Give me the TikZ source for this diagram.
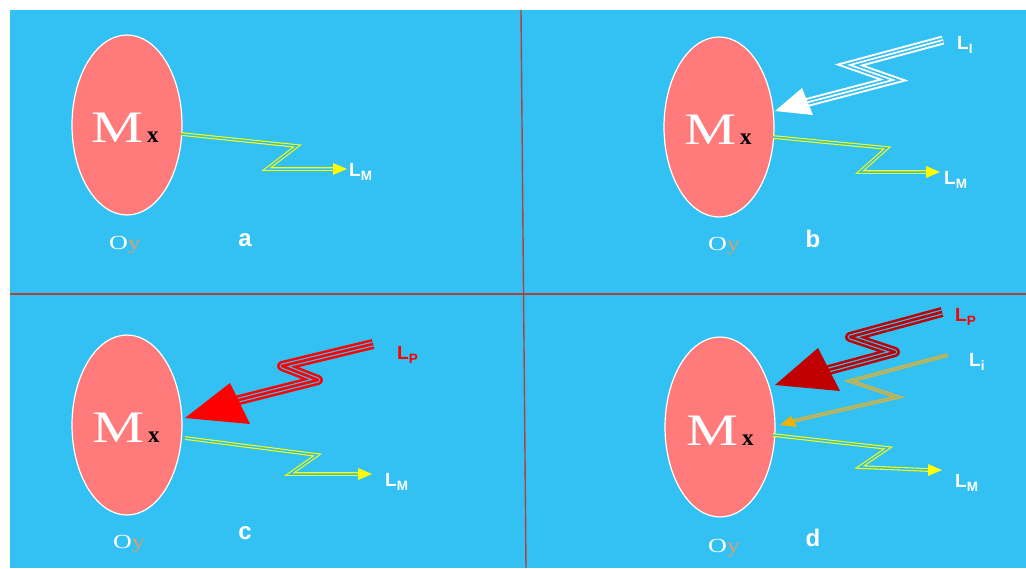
\documentclass[tikz,border=0pt]{standalone}
\usepackage{fontspec}
\setmainfont{Liberation Serif}
\newfontfamily\labfont{Liberation Sans}
\usetikzlibrary{shapes.geometric}
\definecolor{skyb}{HTML}{33C0F2}
\definecolor{sepc}{HTML}{B0413E}
\definecolor{ellc}{HTML}{FF7B7B}
\definecolor{yel}{HTML}{FFFF00}
\definecolor{dred}{HTML}{C00000}
\definecolor{bred}{HTML}{FF0000}
\definecolor{goldl}{HTML}{D6B23E}
\definecolor{goldh}{HTML}{F2B200}
\definecolor{ycol}{HTML}{D8A070}
\tikzset{
  body/.style={ellipse, draw=white, line width=1.2pt, fill=ellc, minimum width=110pt, minimum height=180pt, inner sep=0pt},
  bigm/.style={anchor=base west, inner sep=0pt, text=white, font=\fontsize{45}{45}\selectfont},
  smallx/.style={anchor=base west, inner sep=0pt, text=black, font=\bfseries\fontsize{23}{23}\selectfont},
  oy/.style={anchor=base west, inner sep=0pt, font=\fontsize{20}{20}\selectfont},
  panellab/.style={anchor=base, inner sep=0pt, text=white, font=\labfont\bfseries\fontsize{24}{24}\selectfont},
  lab/.style={anchor=base west, inner sep=0pt, font=\labfont\bfseries\fontsize{19}{19}\selectfont},
  yline/.style={draw=yel, line width=1.1pt, double=skyb, double distance=1.5pt, line join=miter},
  gline/.style={draw=goldl, line width=1.2pt, double=goldl!60!skyb, double distance=1.4pt, line join=miter},
}
\newcommand\mysub[1]{\raisebox{-0.25em}{\fontsize{13.5}{13.5}\selectfont #1}}
\newcommand\myoy{\scalebox{1.3}[1]{\textcolor{white}{O}\textcolor{ycol}{y}}}
\newcommand\mybigm{\scalebox{1.3}[1]{M}}
\begin{document}
\begin{tikzpicture}[x=1pt,y=-1pt]
\useasboundingbox (0,0) rectangle (1026,568);
\fill[white] (0,0) rectangle (1026,568);
\fill[skyb] (10,10) rectangle (1026,568);
\coordinate (vt) at (521,10);
\coordinate (vb) at (526,568);
\coordinate (hl) at (10,294);
\coordinate (hr) at (1026,294);
\draw[sepc, line width=1.4pt] (vt) -- (vb);
\draw[sepc, line width=1.4pt] (hl) -- (hr);

% ---------- panel a ----------
\node[body] (Ea) at (127,125) {};
\node[bigm] (Ma) at (91,142) {\mybigm};
\node[smallx] (Xa) at (147,142) {x};
\node[oy] (Oa) at (109,249) {\myoy};
\node[panellab] (la) at (245,246) {a};
\coordinate (ya0) at (181,134);
\coordinate (ya1) at (297,146);
\coordinate (ya2) at (267,169);
\coordinate (ya3) at (333,169);
\coordinate (yat) at (347,169);
\draw[yline] (ya0) -- (ya1) -- (ya2) -- (ya3);
\fill[yel] (yat) -- ([yshift=-6]ya3) -- ([yshift=6]ya3) -- cycle;
\node[lab, text=white] (LMa) at (349,176) {L\mysub{M}};

% ---------- panel b ----------
\node[body] (Eb) at (719,127) {};
\node[bigm] (Mb) at (684,144) {\mybigm};
\node[smallx] (Xb) at (740,144) {x};
\node[oy] (Ob) at (708,250) {\myoy};
\node[panellab] (lb) at (813,247) {b};
\coordinate (yb0) at (773,137);
\coordinate (yb1) at (887,148);
\coordinate (yb2) at (860,172);
\coordinate (yb3) at (926,172);
\coordinate (ybt) at (940,172);
\draw[yline] (yb0) -- (yb1) -- (yb2) -- (yb3);
\fill[yel] (ybt) -- ([yshift=-6]yb3) -- ([yshift=6]yb3) -- cycle;
\node[lab, text=white] (LMb) at (944,184) {L\mysub{M}};
% white triple arrow
\coordinate (wb0) at (943,40);
\coordinate (wb1) at (850,65);
\coordinate (wb2) at (893,80);
\coordinate (wb3) at (805,103);
\coordinate (wbt) at (775,111);
\foreach \w/\c in {9/white, 5/skyb, 1.7/white}
  \draw[line width=\w pt, \c, line join=miter] (wb0) -- (wb1) -- (wb2) -- (wb3);
\fill[white] (wbt) -- (802,88) -- (813,115) -- cycle;
\node[lab, text=white] (LIb) at (957,49) {L\mysub{I}};

% ---------- panel c ----------
\node[body] (Ec) at (127,425) {};
\node[bigm] (Mc) at (92,442) {\mybigm};
\node[smallx] (Xc) at (148,442) {x};
\node[oy] (Oc) at (113,548) {\myoy};
\node[panellab] (lc) at (245,539) {c};
\coordinate (yc0) at (185,438);
\coordinate (yc1) at (317,455);
\coordinate (yc2) at (290,474);
\coordinate (yc3) at (358,474);
\coordinate (yct) at (372,474);
\draw[yline] (yc0) -- (yc1) -- (yc2) -- (yc3);
\fill[yel] (yct) -- ([yshift=-6]yc3) -- ([yshift=6]yc3) -- cycle;
\node[lab, text=white] (LMc) at (385,486) {L\mysub{M}};
% red triple arrow
\coordinate (rc0) at (373,344);
\coordinate (rc1) at (282,366);
\coordinate (rc2) at (318,380);
\coordinate (rc3) at (235,401);
\coordinate (rct) at (185,418);
\foreach \w/\c in {10/bred, 5/skyb, 2.6/bred}
  \draw[line width=\w pt, \c, line join=round] (rc0) -- (rc1) -- (rc2) -- (rc3);
\fill[bred] (rct) -- (230,383) -- (250,424) -- cycle;
\node[lab, text=bred] (LPc) at (397,359) {L\mysub{P}};

% ---------- panel d ----------
\node[body] (Ed) at (720,427) {};
\node[bigm] (Md) at (686,445) {\mybigm};
\node[smallx] (Xd) at (742,445) {x};
\node[oy] (Od) at (708,552) {\myoy};
\node[panellab] (ld) at (813,546) {d};
\coordinate (yd0) at (773,435);
\coordinate (yd1) at (888,448);
\coordinate (yd2) at (860,467);
\coordinate (yd3) at (928,470);
\coordinate (ydt) at (942,470);
\draw[yline] (yd0) -- (yd1) -- (yd2) -- (yd3);
\fill[yel] (ydt) -- ([yshift=-6]yd3) -- ([yshift=6]yd3) -- cycle;
\node[lab, text=white] (LMd) at (955,487) {L\mysub{M}};
% dark red triple arrow
\coordinate (rd0) at (942,312);
\coordinate (rd1) at (850,337);
\coordinate (rd2) at (895,352);
\coordinate (rd3) at (825,371);
\coordinate (rdt) at (775,385);
\foreach \w/\c in {10/dred, 5/skyb, 2.6/dred}
  \draw[line width=\w pt, \c, line join=round] (rd0) -- (rd1) -- (rd2) -- (rd3);
\fill[dred] (rdt) -- (818,348) -- (840,391) -- cycle;
\node[lab, text=bred] (LPd) at (955,321) {L\mysub{P}};
% gold zigzag arrow
\coordinate (gd0) at (948,355);
\coordinate (gd1) at (850,381);
\coordinate (gd2) at (898,397);
\coordinate (gd3) at (793,421);
\coordinate (gdt) at (780,425);
\draw[gline] (gd0) -- (gd1) -- (gd2) -- (gd3);
\fill[goldh] (gdt) -- (791,416) -- (797,427) -- cycle;
\node[lab, text=white] (LId) at (969,366) {L\mysub{i}};
\end{tikzpicture}
\end{document}
